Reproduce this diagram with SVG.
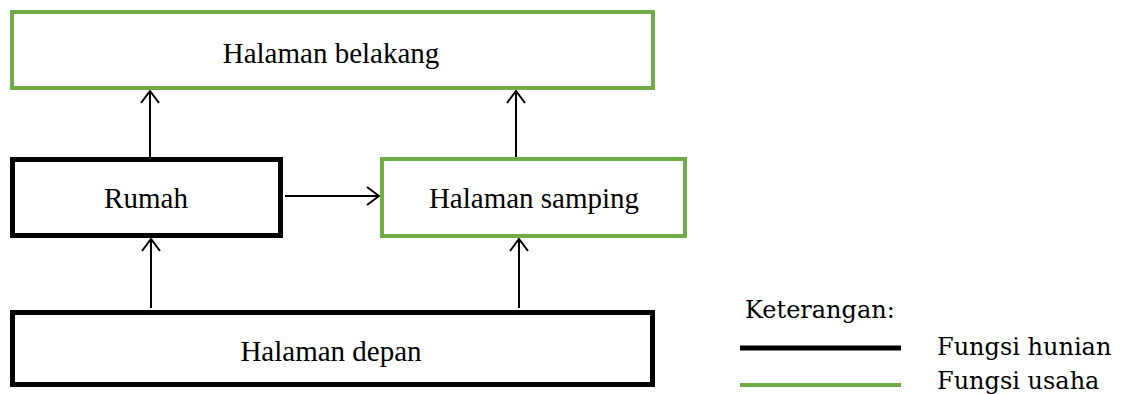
<svg xmlns="http://www.w3.org/2000/svg" width="1126" height="394" viewBox="0 0 1126 394">
<defs>
<marker id="arr" viewBox="0 0 14 20" refX="13" refY="10" markerWidth="14" markerHeight="20" markerUnits="userSpaceOnUse" orient="auto">
<path d="M1,1 L13,10 L1,19" fill="none" stroke="#000" stroke-width="2"/>
</marker>
</defs>
<style>
.green{fill:#fff;stroke:#70AD47;stroke-width:4}
.black{fill:#fff;stroke:#000;stroke-width:5}
.lbl{font-family:"Liberation Serif","Times New Roman",serif;font-size:29px;fill:#000;text-anchor:middle}
.leg{font-family:"DejaVu Serif","Liberation Serif",serif;font-size:24px;fill:#000}
.conn{stroke:#000;stroke-width:2;fill:none;marker-end:url(#arr)}
</style>
<rect width="1126" height="394" fill="#fff"/>
<g id="connectors">
<line class="conn" x1="150" y1="157" x2="150" y2="91"/>
<line class="conn" x1="516" y1="157" x2="516" y2="91"/>
<line class="conn" x1="285" y1="196" x2="379" y2="196"/>
<line class="conn" x1="151" y1="308" x2="151" y2="239"/>
<line class="conn" x1="519" y1="308" x2="519" y2="239"/>
</g>
<g id="belakang">
<rect class="green" x="12" y="12" width="641" height="76"/>
<text class="lbl" x="331" y="63">Halaman belakang</text>
</g>
<g id="rumah">
<rect class="black" x="12.5" y="159.5" width="268" height="76"/>
<text class="lbl" x="146" y="208">Rumah</text>
</g>
<g id="samping">
<rect class="green" x="382" y="159" width="303" height="77"/>
<text class="lbl" x="534" y="208">Halaman samping</text>
</g>
<g id="depan">
<rect class="black" x="12.5" y="312.5" width="640" height="72"/>
<text class="lbl" x="331" y="361">Halaman depan</text>
</g>
<g id="legend">
<text class="leg" x="745" y="318">Keterangan:</text>
<line x1="740" y1="348" x2="901" y2="348" stroke="#000" stroke-width="5"/>
<text class="leg" x="937" y="355">Fungsi hunian</text>
<line x1="740" y1="385" x2="901" y2="385" stroke="#70AD47" stroke-width="4"/>
<text class="leg" x="937" y="389">Fungsi usaha</text>
</g>
</svg>
